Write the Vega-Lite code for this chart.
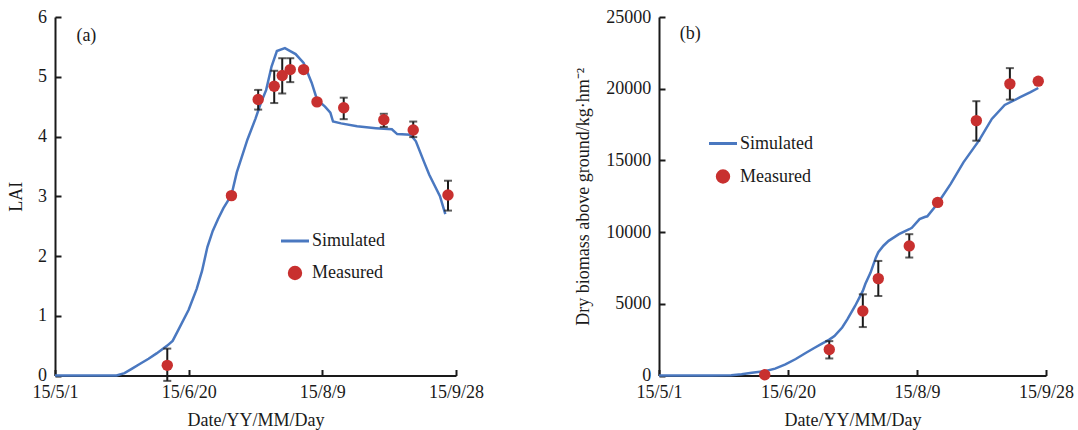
{
  "$schema": "https://vega.github.io/schema/vega-lite/v6.json",
  "padding": {"left": 7, "top": 8, "right": 3, "bottom": 0},
  "background": "white",
  "spacing": 90,
  "config": {
    "font": "Liberation Serif",
    "view": {"stroke": null},
    "axis": {
      "grid": false,
      "domainColor": "#1a1a1a",
      "domainWidth": 2,
      "tickColor": "#1a1a1a",
      "tickWidth": 2,
      "tickSize": -6,
      "labelFont": "Liberation Serif",
      "labelFontSize": 18,
      "labelColor": "#1a1a1a",
      "labelFlush": false,
      "labelOverlap": false,
      "titleFont": "Liberation Serif",
      "titleFontSize": 18,
      "titleFontWeight": "normal",
      "titleColor": "#1a1a1a"
    },
    "axisX": {"labelPadding": 14, "titlePadding": 10},
    "axisY": {"labelPadding": 14.5},
    "legend": {
      "labelFont": "Liberation Serif",
      "labelFontSize": 18,
      "labelColor": "#1a1a1a",
      "symbolSize": 784,
      "labelOffset": 8,
      "padding": 0
    }
  },
  "resolve": {"scale": {"color": "independent"}, "legend": {"color": "independent"}},
  "datasets": {
    "laiSim": [
      {"date": "2015/05/01", "v": 0},
      {"date": "2015/05/24", "v": 0},
      {"date": "2015/05/27", "v": 0.04},
      {"date": "2015/05/30", "v": 0.12},
      {"date": "2015/06/02", "v": 0.2},
      {"date": "2015/06/05", "v": 0.28},
      {"date": "2015/06/08", "v": 0.37},
      {"date": "2015/06/12", "v": 0.5},
      {"date": "2015/06/14", "v": 0.58},
      {"date": "2015/06/16", "v": 0.75},
      {"date": "2015/06/20", "v": 1.1},
      {"date": "2015/06/23", "v": 1.45},
      {"date": "2015/06/25", "v": 1.75},
      {"date": "2015/06/27", "v": 2.15},
      {"date": "2015/06/29", "v": 2.42},
      {"date": "2015/07/01", "v": 2.62},
      {"date": "2015/07/03", "v": 2.8},
      {"date": "2015/07/06", "v": 3.02},
      {"date": "2015/07/08", "v": 3.4},
      {"date": "2015/07/12", "v": 3.95},
      {"date": "2015/07/15", "v": 4.3},
      {"date": "2015/07/17", "v": 4.56},
      {"date": "2015/07/19", "v": 4.78},
      {"date": "2015/07/21", "v": 5.17},
      {"date": "2015/07/23", "v": 5.43},
      {"date": "2015/07/26", "v": 5.48},
      {"date": "2015/07/28", "v": 5.43},
      {"date": "2015/07/30", "v": 5.38},
      {"date": "2015/08/02", "v": 5.23},
      {"date": "2015/08/05", "v": 4.9},
      {"date": "2015/08/07", "v": 4.62},
      {"date": "2015/08/10", "v": 4.5},
      {"date": "2015/08/12", "v": 4.4},
      {"date": "2015/08/13", "v": 4.25},
      {"date": "2015/08/16", "v": 4.22},
      {"date": "2015/08/22", "v": 4.17},
      {"date": "2015/08/29", "v": 4.14},
      {"date": "2015/09/04", "v": 4.12},
      {"date": "2015/09/06", "v": 4.04},
      {"date": "2015/09/11", "v": 4.03},
      {"date": "2015/09/13", "v": 3.92},
      {"date": "2015/09/16", "v": 3.58},
      {"date": "2015/09/18", "v": 3.36},
      {"date": "2015/09/20", "v": 3.18},
      {"date": "2015/09/22", "v": 3.0},
      {"date": "2015/09/24", "v": 2.7}
    ],
    "laiObs": [
      {"date": "2015/06/12", "v": 0.17, "lo": -0.09, "hi": 0.45},
      {"date": "2015/07/06", "v": 3.01, "lo": null, "hi": null},
      {"date": "2015/07/16", "v": 4.62, "lo": 4.45, "hi": 4.78},
      {"date": "2015/07/22", "v": 4.84, "lo": 4.56, "hi": 5.1},
      {"date": "2015/07/25", "v": 5.02, "lo": 4.72, "hi": 5.31},
      {"date": "2015/07/28", "v": 5.12, "lo": 4.91, "hi": 5.31},
      {"date": "2015/08/02", "v": 5.12, "lo": null, "hi": null},
      {"date": "2015/08/07", "v": 4.58, "lo": null, "hi": null},
      {"date": "2015/08/17", "v": 4.48, "lo": 4.29, "hi": 4.65},
      {"date": "2015/09/01", "v": 4.28, "lo": 4.16, "hi": 4.38},
      {"date": "2015/09/12", "v": 4.11, "lo": 3.99, "hi": 4.25},
      {"date": "2015/09/25", "v": 3.02, "lo": 2.76, "hi": 3.26}
    ],
    "bioSim": [
      {"date": "2015/05/01", "v": 0},
      {"date": "2015/05/21", "v": 0},
      {"date": "2015/05/29", "v": 20},
      {"date": "2015/06/02", "v": 80},
      {"date": "2015/06/06", "v": 186},
      {"date": "2015/06/11", "v": 303},
      {"date": "2015/06/15", "v": 480},
      {"date": "2015/06/19", "v": 769},
      {"date": "2015/06/23", "v": 1150},
      {"date": "2015/06/27", "v": 1584},
      {"date": "2015/06/30", "v": 1900},
      {"date": "2015/07/03", "v": 2200},
      {"date": "2015/07/06", "v": 2500},
      {"date": "2015/07/08", "v": 2750},
      {"date": "2015/07/11", "v": 3350},
      {"date": "2015/07/13", "v": 3914},
      {"date": "2015/07/16", "v": 4850},
      {"date": "2015/07/19", "v": 5900},
      {"date": "2015/07/20", "v": 6400},
      {"date": "2015/07/22", "v": 7175},
      {"date": "2015/07/24", "v": 8200},
      {"date": "2015/07/25", "v": 8600},
      {"date": "2015/07/27", "v": 9050},
      {"date": "2015/07/29", "v": 9389},
      {"date": "2015/08/02", "v": 9855},
      {"date": "2015/08/06", "v": 10200},
      {"date": "2015/08/07", "v": 10300},
      {"date": "2015/08/10", "v": 10903},
      {"date": "2015/08/12", "v": 11050},
      {"date": "2015/08/13", "v": 11100},
      {"date": "2015/08/17", "v": 12000},
      {"date": "2015/08/22", "v": 13349},
      {"date": "2015/08/27", "v": 14863},
      {"date": "2015/09/02", "v": 16377},
      {"date": "2015/09/07", "v": 17892},
      {"date": "2015/09/12", "v": 18870},
      {"date": "2015/09/18", "v": 19406},
      {"date": "2015/09/22", "v": 19755},
      {"date": "2015/09/25", "v": 20050}
    ],
    "bioObs": [
      {"date": "2015/06/11", "v": 50, "lo": null, "hi": null},
      {"date": "2015/07/06", "v": 1817, "lo": 1188, "hi": 2397},
      {"date": "2015/07/19", "v": 4496, "lo": 3378, "hi": 5661},
      {"date": "2015/07/25", "v": 6757, "lo": 5543, "hi": 7989},
      {"date": "2015/08/06", "v": 9037, "lo": 8226, "hi": 9855},
      {"date": "2015/08/17", "v": 12070, "lo": null, "hi": null},
      {"date": "2015/09/01", "v": 17775, "lo": 16375, "hi": 19130},
      {"date": "2015/09/14", "v": 20338, "lo": 19240, "hi": 21435},
      {"date": "2015/09/25", "v": 20526, "lo": null, "hi": null}
    ],
    "labA": [{"label": "(a)"}],
    "labB": [{"label": "(b)"}]
  },
  "hconcat": [
    {
      "width": 401,
      "height": 358.5,
      "layer": [
        {
          "data": {"name": "laiSim"},
          "mark": {"type": "line", "strokeWidth": 2.5},
          "encoding": {
            "x": {
              "field": "date", "type": "temporal", "title": "Date/YY/MM/Day",
              "scale": {"domain": [{"year": 2015, "month": 5, "date": 1}, {"year": 2015, "month": 9, "date": 28}], "nice": false},
              "axis": {
                "format": "%y/%-m/%-d",
                "values": [{"year": 2015, "month": 5, "date": 1}, {"year": 2015, "month": 6, "date": 20}, {"year": 2015, "month": 8, "date": 9}, {"year": 2015, "month": 9, "date": 28}]
              }
            },
            "y": {
              "field": "v", "type": "quantitative", "title": "LAI",
              "scale": {"domain": [0, 6], "nice": false, "zero": false},
              "axis": {"format": "d", "values": [0, 1, 2, 3, 4, 5, 6], "titlePadding": 12}
            },
            "color": {
              "datum": "Simulated", "type": "nominal",
              "scale": {"domain": ["Simulated", "Measured"], "range": ["#4a78c0", "#c8302f"]},
              "legend": {
                "title": null, "orient": "none", "legendX": 231, "legendY": 215, "rowPadding": 11,
                "encode": {"symbols": {"update": {
                  "shape": {"signal": "datum.value === 'Simulated' ? 'stroke' : 'circle'"},
                  "size": {"signal": "datum.value === 'Simulated' ? 784 : 130"},
                  "fill": {"signal": "datum.value === 'Simulated' ? 'transparent' : '#c8302f'"},
                  "stroke": {"signal": "datum.value === 'Simulated' ? '#4a78c0' : 'transparent'"},
                  "strokeWidth": {"value": 3},
                  "opacity": {"value": 1}
                }}}
              }
            }
          }
        },
        {
          "data": {"name": "laiObs"},
          "transform": [{"filter": "isValid(datum.lo)"}],
          "mark": {"type": "errorbar", "ticks": {"size": 8, "thickness": 2, "color": "#1a1a1a"}, "rule": {"strokeWidth": 2, "color": "#1a1a1a"}},
          "encoding": {
            "x": {"field": "date", "type": "temporal", "title": "Date/YY/MM/Day"},
            "y": {"field": "lo", "type": "quantitative", "title": "LAI"},
            "y2": {"field": "hi"}
          }
        },
        {
          "data": {"name": "laiObs"},
          "mark": {"type": "point", "filled": true, "size": 130, "opacity": 1},
          "encoding": {
            "x": {"field": "date", "type": "temporal", "title": "Date/YY/MM/Day"},
            "y": {"field": "v", "type": "quantitative", "title": "LAI"},
            "color": {"datum": "Measured", "type": "nominal"}
          }
        },
        {
          "data": {"name": "labA"},
          "mark": {"type": "text", "align": "left", "baseline": "middle", "fontSize": 18, "font": "Liberation Serif", "color": "#1a1a1a"},
          "encoding": {
            "x": {"datum": {"year": 2015, "month": 5, "date": 9}, "type": "temporal", "title": "Date/YY/MM/Day"},
            "y": {"datum": 5.68, "type": "quantitative", "title": "LAI"},
            "text": {"field": "label", "type": "nominal"}
          }
        }
      ]
    },
    {
      "width": 387,
      "height": 358.5,
      "layer": [
        {
          "data": {"name": "bioSim"},
          "mark": {"type": "line", "strokeWidth": 2.5},
          "encoding": {
            "x": {
              "field": "date", "type": "temporal", "title": "Date/YY/MM/Day",
              "scale": {"domain": [{"year": 2015, "month": 5, "date": 1}, {"year": 2015, "month": 9, "date": 28}], "nice": false},
              "axis": {
                "format": "%y/%-m/%-d",
                "values": [{"year": 2015, "month": 5, "date": 1}, {"year": 2015, "month": 6, "date": 20}, {"year": 2015, "month": 8, "date": 9}, {"year": 2015, "month": 9, "date": 28}]
              }
            },
            "y": {
              "field": "v", "type": "quantitative", "title": "Dry biomass above ground/kg·hm⁻²",
              "scale": {"domain": [0, 25000], "nice": false, "zero": false},
              "axis": {"format": "d", "values": [0, 5000, 10000, 15000, 20000, 25000], "titlePadding": 13, "labelPadding": 14.3}
            },
            "color": {
              "datum": "Simulated", "type": "nominal",
              "scale": {"domain": ["Simulated", "Measured"], "range": ["#4a78c0", "#c8302f"]},
              "legend": {
                "title": null, "orient": "none", "legendX": 55, "legendY": 117.5, "rowPadding": 12,
                "encode": {"symbols": {"update": {
                  "shape": {"signal": "datum.value === 'Simulated' ? 'stroke' : 'circle'"},
                  "size": {"signal": "datum.value === 'Simulated' ? 784 : 130"},
                  "fill": {"signal": "datum.value === 'Simulated' ? 'transparent' : '#c8302f'"},
                  "stroke": {"signal": "datum.value === 'Simulated' ? '#4a78c0' : 'transparent'"},
                  "strokeWidth": {"value": 3},
                  "opacity": {"value": 1}
                }}}
              }
            }
          }
        },
        {
          "data": {"name": "bioObs"},
          "transform": [{"filter": "isValid(datum.lo)"}],
          "mark": {"type": "errorbar", "ticks": {"size": 8, "thickness": 2, "color": "#1a1a1a"}, "rule": {"strokeWidth": 2, "color": "#1a1a1a"}},
          "encoding": {
            "x": {"field": "date", "type": "temporal", "title": "Date/YY/MM/Day"},
            "y": {"field": "lo", "type": "quantitative", "title": "Dry biomass above ground/kg·hm⁻²"},
            "y2": {"field": "hi"}
          }
        },
        {
          "data": {"name": "bioObs"},
          "mark": {"type": "point", "filled": true, "size": 130, "opacity": 1},
          "encoding": {
            "x": {"field": "date", "type": "temporal", "title": "Date/YY/MM/Day"},
            "y": {"field": "v", "type": "quantitative", "title": "Dry biomass above ground/kg·hm⁻²"},
            "color": {"datum": "Measured", "type": "nominal"}
          }
        },
        {
          "data": {"name": "labB"},
          "mark": {"type": "text", "align": "left", "baseline": "middle", "fontSize": 18, "font": "Liberation Serif", "color": "#1a1a1a"},
          "encoding": {
            "x": {"datum": {"year": 2015, "month": 5, "date": 9}, "type": "temporal", "title": "Date/YY/MM/Day"},
            "y": {"datum": 23800, "type": "quantitative", "title": "Dry biomass above ground/kg·hm⁻²"},
            "text": {"field": "label", "type": "nominal"}
          }
        }
      ]
    }
  ]
}
